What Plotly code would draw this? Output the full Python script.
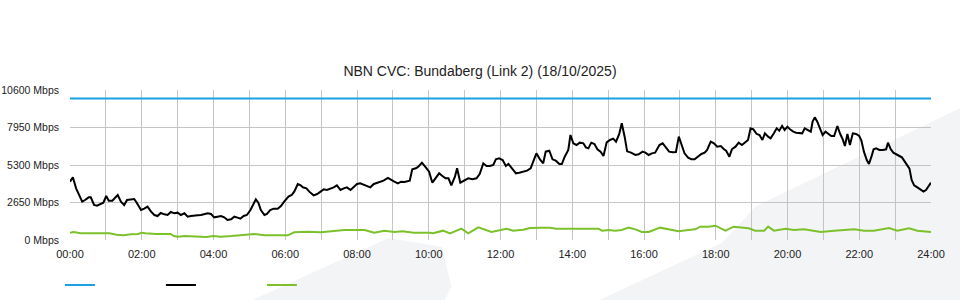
import plotly.graph_objects as go

# ---- data (hours since midnight, Mbps) ----
capacity_t = [0, 24]
capacity_v = [10000, 10000]

down_t = [0.00, 0.08, 0.17, 0.27, 0.34, 0.42, 0.52, 0.58, 0.67, 0.75, 0.84, 0.93, 1.01, 1.08, 1.18, 1.26, 1.33, 1.42, 1.51, 1.59,
          1.68, 1.79, 1.86, 1.98, 2.07, 2.16, 2.26, 2.35, 2.44, 2.53, 2.63, 2.72, 2.81, 2.91, 3.00, 3.09, 3.19, 3.28, 3.37, 3.46,
          3.56, 3.65, 3.74, 3.84, 3.93, 4.02, 4.11, 4.21, 4.30, 4.39, 4.49, 4.58, 4.67, 4.75, 4.84, 4.93, 5.03, 5.09, 5.18, 5.25,
          5.32, 5.42, 5.49, 5.58, 5.68, 5.79, 5.88, 5.97, 6.09, 6.18, 6.25, 6.35, 6.42, 6.49, 6.59, 6.67, 6.79, 6.89, 6.98, 7.07,
          7.16, 7.26, 7.35, 7.44, 7.54, 7.63, 7.72, 7.82, 7.91, 8.00, 8.09, 8.19, 8.28, 8.37, 8.47, 8.56, 8.65, 8.74, 8.86, 8.95,
          9.04, 9.14, 9.23, 9.32, 9.41, 9.47, 9.54, 9.64, 9.71, 9.81, 9.90, 10.01, 10.10, 10.20, 10.29, 10.38, 10.47, 10.55, 10.63, 10.73,
          10.79, 10.88, 10.98, 11.10, 11.22, 11.33, 11.42, 11.52, 11.61, 11.70, 11.80, 11.87, 11.96, 12.06, 12.15, 12.22, 12.32, 12.43, 12.52, 12.63,
          12.74, 12.84, 12.93, 13.00, 13.10, 13.19, 13.26, 13.36, 13.45, 13.54, 13.64, 13.71, 13.79, 13.89, 13.95, 14.03, 14.12, 14.21, 14.31, 14.38,
          14.45, 14.53, 14.62, 14.70, 14.79, 14.87, 14.96, 15.05, 15.14, 15.22, 15.31, 15.38, 15.46, 15.53, 15.64, 15.76, 15.85, 15.96, 16.04, 16.13,
          16.22, 16.31, 16.43, 16.52, 16.61, 16.70, 16.80, 16.89, 16.97, 17.04, 17.13, 17.23, 17.32, 17.41, 17.50, 17.60, 17.69, 17.76, 17.86, 17.95,
          18.04, 18.14, 18.23, 18.29, 18.38, 18.45, 18.55, 18.64, 18.73, 18.82, 18.90, 18.97, 19.05, 19.14, 19.22, 19.30, 19.37, 19.46, 19.53, 19.62,
          19.70, 19.77, 19.85, 19.92, 20.00, 20.07, 20.16, 20.24, 20.33, 20.41, 20.48, 20.55, 20.65, 20.70, 20.76, 20.83, 20.91, 20.98, 21.06, 21.13,
          21.22, 21.30, 21.39, 21.47, 21.54, 21.60, 21.67, 21.74, 21.82, 21.91, 22.00, 22.06, 22.13, 22.21, 22.27, 22.34, 22.40, 22.47, 22.56, 22.66,
          22.75, 22.80, 22.88, 22.95, 23.05, 23.12, 23.19, 23.27, 23.34, 23.40, 23.46, 23.53, 23.62, 23.72, 23.79, 23.86, 23.92, 24.00]
down_v = [4122, 4429, 3651, 3015, 2709, 2827, 3015, 3015, 2473, 2426, 2544, 2638, 3109, 2780, 2780, 3015, 3180, 2709, 2473, 2827,
          2874, 2897, 2638, 2120, 2214, 2356, 2002, 1767, 1696, 1908, 1814, 1767, 1979, 1885, 1931, 1767, 1885, 1649, 1696, 1696,
          1743, 1767, 1837, 1885, 1837, 1602, 1649, 1696, 1602, 1413, 1461, 1649, 1580, 1508, 1696, 1767, 2120, 2473, 2874, 2638,
          2120, 1767, 1837, 2120, 2214, 2214, 2403, 2709, 3062, 3180, 3416, 3957, 3887, 3722, 3651, 3416, 3157, 3251, 3416, 3581,
          3534, 3628, 3722, 3863, 3534, 3651, 3722, 3534, 3769, 3957, 4005, 3887, 3816, 3722, 3957, 4052, 4099, 4193, 4382, 4240,
          4122, 4005, 4122, 4099, 4146, 4193, 4994, 5065, 5182, 5465, 5182, 4829, 4052, 4358, 4712, 4523, 4358, 4358, 3863, 4476,
          5065, 4052, 4193, 4358, 4287, 4358, 4664, 5418, 5230, 5230, 5300, 5701, 5772, 5654, 5230, 5371, 5065, 4712, 4758, 4829,
          4900, 5065, 5654, 6125, 5701, 5418, 6242, 6313, 5701, 5606, 5371, 5371, 5889, 6360, 7420, 6832, 6714, 6878, 6832, 6549,
          6478, 6878, 6784, 6408, 6242, 5936, 6902, 7067, 7161, 6949, 7491, 8245, 7302, 6266, 6172, 6007, 6054, 6242, 6172, 6007,
          6125, 6172, 6714, 6832, 6549, 6242, 6196, 6219, 7302, 6714, 6125, 5818, 5701, 5701, 5889, 6078, 6172, 6360, 6949, 6832,
          6596, 6643, 6408, 6313, 5889, 6408, 6596, 6878, 6714, 6878, 7067, 7891, 7821, 7491, 7420, 7067, 7538, 7302, 7185, 7538,
          7891, 7726, 8056, 7774, 8009, 7821, 7656, 7585, 7538, 7538, 7891, 7774, 7656, 8362, 8669, 8362, 7891, 7420, 7656, 7491,
          7350, 7350, 8056, 7491, 7114, 6643, 7491, 6714, 7538, 7491, 7350, 7020, 6242, 5654, 5371, 5889, 6408, 6478, 6360, 6360,
          6408, 6878, 6408, 6172, 6007, 5936, 5842, 5536, 5230, 5041, 4240, 3863, 3722, 3534, 3416, 3534, 3769, 4052]

up_t = [0.00, 0.10, 0.30, 0.90, 1.00, 1.10, 1.30, 1.50, 1.70, 1.90, 2.00, 2.10, 2.40, 2.80, 2.90, 3.00, 3.20, 3.40, 3.60, 3.80,
        4.00, 4.20, 4.50, 4.67, 5.14, 5.42, 6.07, 6.25, 6.62, 6.99, 7.37, 7.65, 8.21, 8.48, 8.76, 9.04, 9.27, 9.58, 10.03, 10.12,
        10.40, 10.59, 10.91, 11.10, 11.38, 11.75, 12.17, 12.35, 12.63, 12.82, 13.14, 13.38, 13.56, 14.31, 14.73, 14.83, 15.01, 15.20, 15.38, 15.57,
        15.76, 15.94, 16.13, 16.45, 16.69, 16.96, 17.24, 17.43, 17.57, 17.80, 17.99, 18.27, 18.50, 18.73, 18.92, 19.10, 19.35, 19.46, 19.62, 19.95,
        20.18, 20.46, 20.93, 21.30, 21.62, 21.86, 22.13, 22.41, 22.83, 23.06, 23.39, 23.62, 24.00]
up_v = [518, 565, 471, 471, 424, 471, 377, 330, 400, 424, 518, 471, 424, 424, 283, 235, 283, 260, 235, 212,
        283, 235, 283, 330, 424, 330, 330, 541, 589, 541, 659, 706, 706, 518, 659, 565, 612, 518, 518, 471,
        659, 471, 801, 471, 895, 565, 801, 659, 730, 848, 872, 872, 801, 801, 801, 659, 706, 659, 706, 872,
        754, 565, 565, 872, 754, 612, 706, 754, 942, 942, 1013, 659, 942, 848, 824, 659, 659, 942, 659, 801,
        706, 754, 565, 659, 706, 754, 659, 659, 848, 659, 824, 659, 565]

y_ticks = [0, 2650, 5300, 7950, 10600]
y_labels = ["0 Mbps", "2650 Mbps", "5300 Mbps", "7950 Mbps", "10600 Mbps"]
x_ticks = list(range(0, 25))
x_labels = [f"{h:02d}:00" if h % 2 == 0 else "" for h in x_ticks]

title = "NBN CVC: Bundaberg (Link 2) (18/10/2025)"

FONT = "Liberation Sans, Arial, sans-serif"
GRID = "#c4c4c4"

fig = go.Figure()
fig.add_trace(go.Scatter(x=capacity_t, y=capacity_v, mode="lines", name=" ",
                         line=dict(color="#1ba1e2", width=2)))
fig.add_trace(go.Scatter(x=down_t, y=down_v, mode="lines", name=" ",
                         line=dict(color="#000000", width=2)))
fig.add_trace(go.Scatter(x=up_t, y=up_v, mode="lines", name=" ",
                         line=dict(color="#7cc12c", width=2)))

# faint background watermark
wm = "#f3f4f6"
fig.add_shape(type="path", xref="paper", yref="paper", layer="below", line_width=0, fillcolor=wm,
              path="M 0.212 -0.4 L 0.370 0.013 L 0.432 -0.047 L 0.443 -0.313 L 0.435 -0.4 Z")
fig.add_shape(type="path", xref="paper", yref="paper", layer="below", line_width=0, fillcolor=wm,
              path="M 0.615 -0.4 L 0.757 -0.02 L 0.797 0.227 L 1.034 0.88 L 1.034 -0.4 Z")

fig.update_layout(
    width=960, height=300,
    margin=dict(l=70, r=29, t=90, b=60, autoexpand=False),
    paper_bgcolor="white", plot_bgcolor="rgba(0,0,0,0)",
    font=dict(family=FONT, size=11, color="#222"),
    title=dict(text=title, x=0.5, xanchor="center", y=0.763, yanchor="middle",
               font=dict(family=FONT, size=14, color="#222")),
    showlegend=True,
    legend=dict(orientation="h", x=-0.0117, xanchor="left", y=-0.3, yanchor="middle",
                entrywidth=56, entrywidthmode="pixels", font=dict(size=11),
                bgcolor="rgba(0,0,0,0)"),
    xaxis=dict(range=[0, 24], tickmode="array", tickvals=x_ticks, ticktext=x_labels,
               showgrid=True, gridcolor=GRID, gridwidth=1, zeroline=False, showline=False,
               ticks="", ticklabelstandoff=6, automargin=False, fixedrange=True),
    yaxis=dict(range=[0, 10600], tickmode="array", tickvals=y_ticks, ticktext=y_labels,
               showgrid=True, gridcolor=GRID, gridwidth=1, zeroline=False, showline=False,
               ticks="", ticklabelstandoff=10, automargin=False, fixedrange=True,
               tickfont=dict(size=10.5)),
)

fig.write_html("out.html")
